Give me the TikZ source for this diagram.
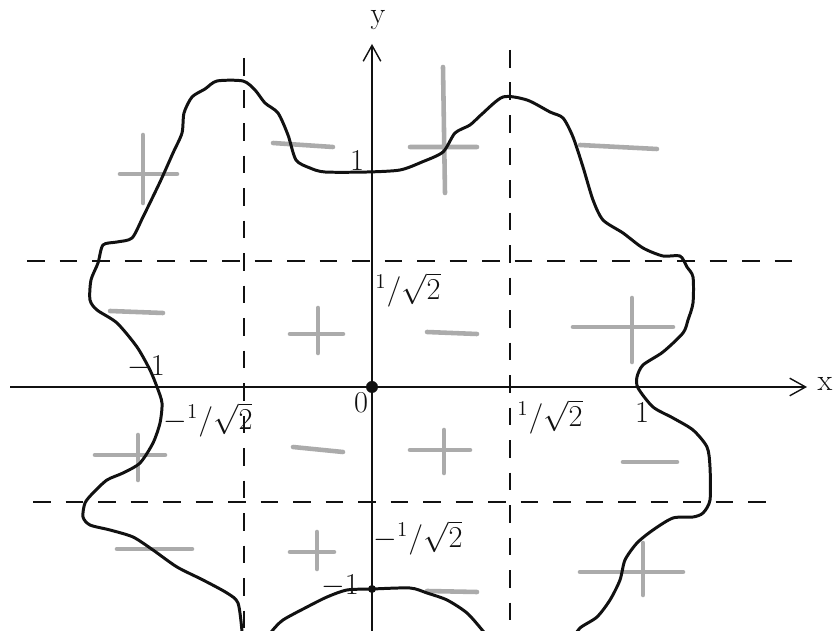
\documentclass[tikz,border=0pt]{standalone}
\usetikzlibrary{arrows.meta}
\definecolor{ink}{HTML}{111111}
\definecolor{chalk}{HTML}{ABABAB}
\newcommand{\invroot}{{}^{1}/\sqrt{2}}

\begin{document}
\begin{tikzpicture}[x=0.02cm,y=-0.02cm,font=\LARGE,text=ink,
  >={Straight Barb[length=9pt,width=10pt]},
  axis/.style={ink,line width=0.8pt},
  guide/.style={ink,line width=0.8pt,dash pattern=on 10pt off 8.5pt},
  rim/.style={ink,line width=1.7pt,line join=round},
  sign/.style={chalk,line width=2.6pt,line cap=round}]
  \clip (0,0) rectangle (833,631);

  \coordinate (O) at (372,387);
  \coordinate (xl) at (10,387);
  \coordinate (xr) at (807,387);
  \coordinate (yb) at (372,631);
  \coordinate (yt) at (372,44);

  % dashed guides at +-1/sqrt2
  \draw[guide] (27,261)--(793,261);
  \draw[guide] (33,502)--(780,502);
  \draw[guide] (244,58)--(244,631);
  \draw[guide] (510,50)--(510,631);

  % signs
  \draw[sign] (120,174)--(177,174) (143,135)--(143,203);
  \draw[sign] (410,147)--(477,147) (443,67)--(445,193);
  \draw[sign] (290,334)--(343,334) (318,308)--(318,353);
  \draw[sign] (95,455)--(165,455) (138,435)--(138,480);
  \draw[sign] (410,450)--(470,450) (444,430)--(444,473);
  \draw[sign] (573,327)--(673,327) (632,298)--(632,362);
  \draw[sign] (290,552)--(334,552) (317,532)--(317,569);
  \draw[sign] (580,572)--(683,572) (643,543)--(643,595);
  \draw[sign] (273,143)--(333,147);
  \draw[sign] (580,145)--(657,149);
  \draw[sign] (110,311)--(163,313);
  \draw[sign] (427,332)--(477,334);
  \draw[sign] (293,447)--(343,452);
  \draw[sign] (117,549)--(192,549);
  \draw[sign] (623,462)--(677,462);
  \draw[sign] (427,591)--(477,592);

  \draw[axis,->] (xl)--(xr);
  \draw[axis,->] (yb)--(yt);

  % boundary curve
  \draw[rim] plot[smooth,tension=0.45] coordinates {
    (242,640) (242,631) (238,603) (227,593) (203,580) (177,567)
    (153,550) (133,537) (110,530) (90,525) (83,517) (85,503) (93,493)
    (107,480) (123,473) (140,463) (153,443) (160,423) (162,403)
    (157,387) (150,370) (137,347) (117,323) (97,310) (90,300) (91,280)
    (98,263) (103,245) (117,242) (132,238) (143,217) (160,182)
    (173,153) (182,133) (184,113) (192,97) (205,89) (217,81) (243,81)
    (255,90) (265,103) (278,113) (288,135) (296,160) (310,168)
    (325,172) (367,172) (400,170) (422,162) (443,152) (455,133)
    (470,125) (482,114) (503,97) (527,100) (550,112) (563,118)
    (573,137) (583,167) (593,200) (603,220) (623,233) (643,248)
    (663,256) (680,256) (687,267) (693,277) (693,303) (688,320)
    (683,333) (663,352) (643,365) (637,377) (638,388) (653,407)
    (673,418) (693,430) (707,447) (710,467) (710,500) (703,513)
    (693,517) (673,518) (653,530) (637,543) (625,560) (620,580)
    (610,600) (597,617) (580,628) (572,640)};
  \draw[rim] plot[smooth,tension=0.45] coordinates {
    (266,640) (272,631) (283,620) (307,607) (327,597) (347,590)
    (372,589) (410,588) (427,593) (447,600) (467,613) (483,631)
    (490,640)};

  \fill[ink] (O) circle (6);
  \fill[ink] (372,589) circle (4);

  % labels
  \node (xlab) at (825,384) {x};
  \node (ylab) at (378,20) {y};
  \node (orig) at (361,403) {0};
  \node (ytop) at (357,160) {1};
  \node (ybot) at (340,586) {$-1$};
  \node (xrgt) at (642,412) {1};
  \node (xlft) at (146,367) {$-1$};
  \node (yup) at (408,290) {$\invroot$};
  \node (ydn) at (418,538) {$-\invroot$};
  \node (xup) at (550,417) {$\invroot$};
  \node (xdn) at (208,420) {$-\invroot$};
\end{tikzpicture}
\end{document}
